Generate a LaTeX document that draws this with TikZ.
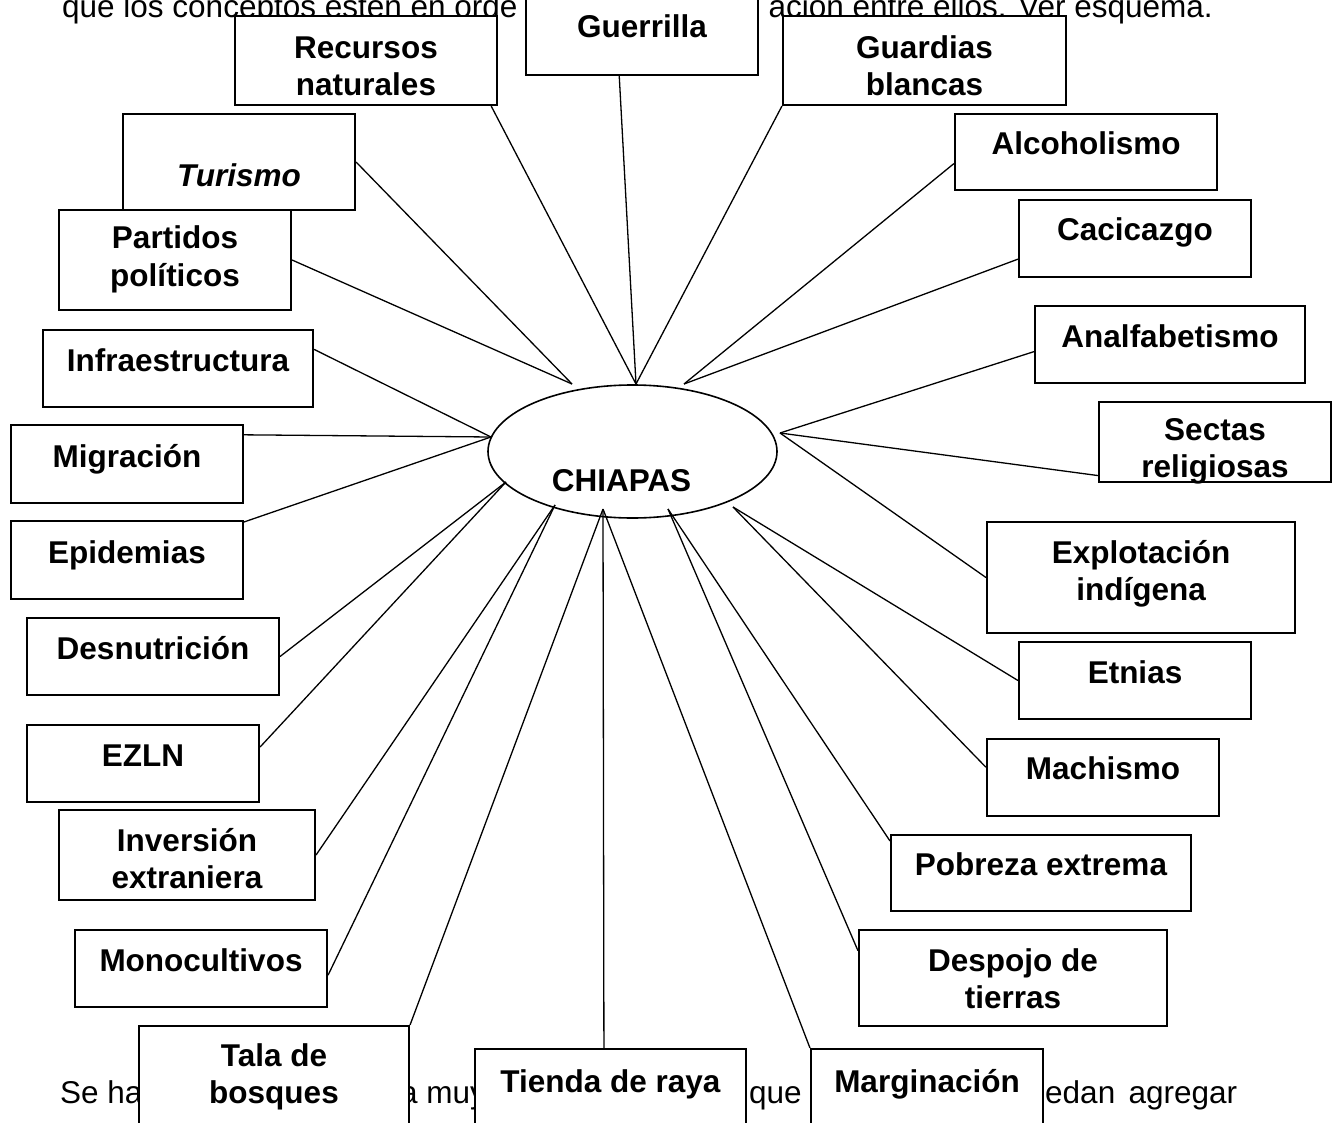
\documentclass[tikz,border=0pt]{standalone}
\usepackage{fontspec}
\setmainfont{Liberation Sans}
\usetikzlibrary{shapes.geometric}
\tikzset{concepto/.style={shape=rectangle, draw=black, fill=white, line width=2.1pt, inner sep=0pt, align=center, font=\fontsize{31.5}{37}\selectfont\bfseries, text height=5pt, text depth=0pt}}
\tikzset{texto/.style={inner sep=0pt, font=\fontsize{31.5}{37}\selectfont}}
\tikzset{every edge/.style={draw=black, line width=1.3pt}}

\begin{document}
\begin{tikzpicture}[x=1pt, y=-1pt]
  \useasboundingbox (0,0) rectangle (1335,1123);

  \node (txt1) [texto, anchor=base west] at (62,18) {que los conceptos estén en orde};
  \node (txt2) [texto, anchor=base east] at (1213,18) {ación entre ellos. Ver esquema.};
  \node (txt3) [texto, anchor=base west] at (60,1103) {Se ha};
  \node (txt4) [texto, anchor=base west] at (400,1103) {a muy};
  \node (txt5) [texto, anchor=base west] at (749,1103) {que};
  \node (txt6) [texto, anchor=base west] at (1045,1103) {\makebox[192pt][s]{edan agregar}};

  \node (gue) [concepto, minimum width=232pt, minimum height=80pt, text height=6pt] at (642,35) {Guerrilla};
  \node (rec) [concepto, minimum width=262pt, minimum height=89pt, text height=71pt] at (366,60.5) {Recursos\\naturales};
  \node (gua) [concepto, minimum width=283pt, minimum height=89pt, text height=71pt] at (924.5,60.5) {Guardias\\blancas};
  \node (tur) [concepto, minimum width=232pt, minimum height=96pt, text height=50pt] at (239,162) {\itshape Turismo};
  \node (alc) [concepto, minimum width=262pt, minimum height=76pt, text height=6pt] at (1086,152) {Alcoholismo};
  \node (par) [concepto, minimum width=232pt, minimum height=100pt, text height=52pt] at (175,260) {Partidos\\políticos};
  \node (cac) [concepto, minimum width=232pt, minimum height=77pt] at (1135,238.5) {Cacicazgo};
  \node (inf) [concepto, minimum width=270pt, minimum height=77pt] at (178,368.5) {Infraestructura};
  \node (ana) [concepto, minimum width=270pt, minimum height=77pt] at (1170,344.5) {Analfabetismo};
  \node (mig) [concepto, minimum width=232pt, minimum height=78pt, text height=6pt] at (127,464) {Migración};
  \node (sec) [concepto, minimum width=232pt, minimum height=80pt, text height=70pt] at (1215,442) {Sectas\\religiosas};
  \node (epi) [concepto, minimum width=232pt, minimum height=78pt, text height=6pt] at (127,560) {Epidemias};
  \node (exp) [concepto, minimum width=308pt, minimum height=111pt, text height=45pt] at (1141,577.5) {Explotación\\indígena};
  \node (des) [concepto, minimum width=252pt, minimum height=77pt] at (153,656.5) {Desnutrición};
  \node (etn) [concepto, minimum width=232pt, minimum height=77pt] at (1135,680.5) {Etnias};
  \node (ezl) [concepto, minimum width=232pt, minimum height=77pt] at (143,763.5) {EZLN};
  \node (mac) [concepto, minimum width=232pt, minimum height=77pt, text height=3pt] at (1103,777.5) {Machismo};
  \node (inv) [concepto, minimum width=256pt, minimum height=90pt, text height=66pt] at (187,855) {Inversión\\extraniera};
  \node (pob) [concepto, minimum width=300pt, minimum height=76pt, text height=4pt] at (1041,873) {Pobreza extrema};
  \node (mon) [concepto, minimum width=252pt, minimum height=77pt] at (201,968.5) {Monocultivos};
  \node (dsp) [concepto, minimum width=308pt, minimum height=96pt, text height=60pt] at (1013,978) {Despojo de\\tierras};
  \node (tal) [concepto, minimum width=270pt, minimum height=104pt, text height=50pt] at (274,1078) {Tala de\\bosques};
  \node (tie) [concepto, minimum width=271pt, minimum height=81pt] at (610.5,1089.5) {Tienda de raya};
  \node (mar) [concepto, minimum width=232pt, minimum height=81pt] at (927,1089.5) {Marginación};

  \node (chi) [ellipse, draw=black, line width=1.6pt, minimum width=289pt, minimum height=133pt, inner sep=0pt, text height=79pt, text depth=0pt, font=\fontsize{31.5}{37}\selectfont\bfseries] at (632.5,451.5) {CHIAPAS\hspace*{22pt}};

  \coordinate (t1) at (572,384);
  \coordinate (t2) at (636,384);
  \coordinate (t3) at (684,384);
  \coordinate (l1) at (491,437);
  \coordinate (r1) at (780,433);
  \coordinate (l2) at (506,482);
  \coordinate (b1) at (555,505);
  \coordinate (b2) at (603,509);
  \coordinate (b3) at (668,509);
  \coordinate (r2) at (733,507);

  \path (rec.340) edge (t2);
  \path (gue.241) edge (t2);
  \path (gua.south west) edge (t2);

  \path (tur.east) edge (t1);
  \path (par.east) edge (t1);

  \path (alc.185) edge (t3);
  \path (cac.190) edge (t3);

  \path (inf.8) edge (l1);
  \path (mig.14) edge (l1);
  \path (epi.18) edge (l1);

  \path (ana.183) edge (r1);
  \path (sec.196) edge (r1);
  \path (exp.west) edge (r1);

  \path (des.east) edge (l2);
  \path (ezl.8) edge (l2);

  \path (inv.east) edge (b1);
  \path (mon.357) edge (b1);

  \path (tal.north east) edge (b2);
  \path (tie.99) edge (b2);
  \path (mar.north west) edge (b2);

  \path (pob.168) edge (b3);
  \path (dsp.170) edge (b3);

  \path (etn.west) edge (r2);
  \path (mac.175) edge (r2);
\end{tikzpicture}
\end{document}
